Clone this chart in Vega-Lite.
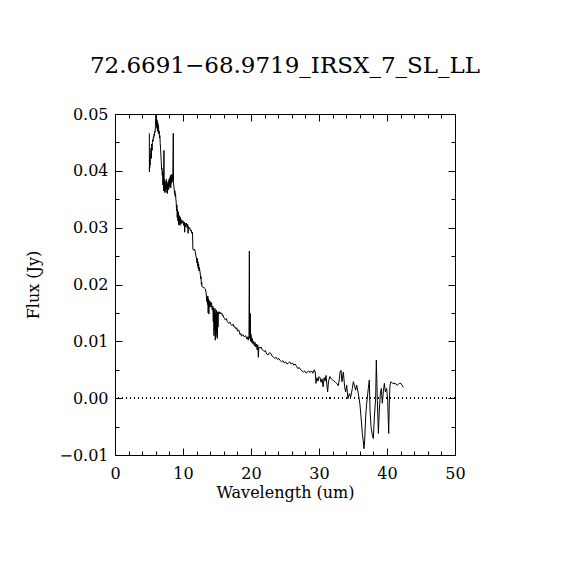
{
  "$schema": "https://vega.github.io/schema/vega-lite/v6.json",
  "title": "72.6691−68.9719_IRSX_7_SL_LL",
  "autosize": {"type": "none"},
  "padding": {"left": 115, "top": 114, "right": 115, "bottom": 115},
  "width": 340,
  "height": 341,
  "data": {
    "values": [
      {"w": 5.05, "f": 0.0466}, {"w": 5.06, "f": 0.0398}, {"w": 5.08, "f": 0.042}, {"w": 5.1, "f": 0.0405},
      {"w": 5.13, "f": 0.0425}, {"w": 5.16, "f": 0.041}, {"w": 5.2, "f": 0.0428}, {"w": 5.25, "f": 0.0432},
      {"w": 5.3, "f": 0.044}, {"w": 5.35, "f": 0.0422}, {"w": 5.4, "f": 0.0447}, {"w": 5.45, "f": 0.0436},
      {"w": 5.5, "f": 0.045}, {"w": 5.55, "f": 0.0455}, {"w": 5.6, "f": 0.0452}, {"w": 5.65, "f": 0.046},
      {"w": 5.7, "f": 0.0458}, {"w": 5.75, "f": 0.0465}, {"w": 5.8, "f": 0.0462}, {"w": 5.85, "f": 0.047},
      {"w": 5.9, "f": 0.0468}, {"w": 5.95, "f": 0.048}, {"w": 6.0, "f": 0.0492}, {"w": 6.03, "f": 0.0499},
      {"w": 6.06, "f": 0.0485}, {"w": 6.09, "f": 0.0495}, {"w": 6.12, "f": 0.0478}, {"w": 6.15, "f": 0.049},
      {"w": 6.18, "f": 0.0475}, {"w": 6.21, "f": 0.0488}, {"w": 6.24, "f": 0.047}, {"w": 6.27, "f": 0.0485},
      {"w": 6.3, "f": 0.0472}, {"w": 6.33, "f": 0.0482}, {"w": 6.36, "f": 0.0468}, {"w": 6.4, "f": 0.0478},
      {"w": 6.45, "f": 0.0465}, {"w": 6.5, "f": 0.047}, {"w": 6.55, "f": 0.0458}, {"w": 6.6, "f": 0.0462},
      {"w": 6.65, "f": 0.0448}, {"w": 6.7, "f": 0.044}, {"w": 6.75, "f": 0.0428}, {"w": 6.8, "f": 0.0418},
      {"w": 6.85, "f": 0.0402}, {"w": 6.9, "f": 0.0405}, {"w": 6.95, "f": 0.0392}, {"w": 7.0, "f": 0.04},
      {"w": 7.05, "f": 0.0375}, {"w": 7.1, "f": 0.0395}, {"w": 7.15, "f": 0.0365}, {"w": 7.2, "f": 0.0436},
      {"w": 7.22, "f": 0.0372}, {"w": 7.25, "f": 0.0385}, {"w": 7.3, "f": 0.0362}, {"w": 7.35, "f": 0.0382},
      {"w": 7.4, "f": 0.0366}, {"w": 7.45, "f": 0.0378}, {"w": 7.5, "f": 0.0362}, {"w": 7.55, "f": 0.0385},
      {"w": 7.6, "f": 0.0368}, {"w": 7.65, "f": 0.038}, {"w": 7.7, "f": 0.036}, {"w": 7.75, "f": 0.0376},
      {"w": 7.8, "f": 0.0366}, {"w": 7.85, "f": 0.0382}, {"w": 7.9, "f": 0.0368}, {"w": 7.95, "f": 0.0385},
      {"w": 8.0, "f": 0.0372}, {"w": 8.05, "f": 0.0388}, {"w": 8.1, "f": 0.0375}, {"w": 8.15, "f": 0.0392},
      {"w": 8.2, "f": 0.037}, {"w": 8.25, "f": 0.039}, {"w": 8.3, "f": 0.0378}, {"w": 8.35, "f": 0.0394},
      {"w": 8.4, "f": 0.038}, {"w": 8.45, "f": 0.0392}, {"w": 8.5, "f": 0.0385}, {"w": 8.57, "f": 0.0466},
      {"w": 8.6, "f": 0.038}, {"w": 8.65, "f": 0.0372}, {"w": 8.7, "f": 0.0368}, {"w": 8.75, "f": 0.036},
      {"w": 8.8, "f": 0.0365}, {"w": 8.85, "f": 0.0355}, {"w": 8.9, "f": 0.036}, {"w": 8.95, "f": 0.035},
      {"w": 9.0, "f": 0.0345}, {"w": 9.05, "f": 0.033}, {"w": 9.1, "f": 0.034}, {"w": 9.15, "f": 0.0318},
      {"w": 9.2, "f": 0.0332}, {"w": 9.25, "f": 0.0312}, {"w": 9.3, "f": 0.0328}, {"w": 9.35, "f": 0.0305},
      {"w": 9.4, "f": 0.0322}, {"w": 9.45, "f": 0.0308}, {"w": 9.5, "f": 0.032}, {"w": 9.55, "f": 0.0304},
      {"w": 9.6, "f": 0.0318}, {"w": 9.7, "f": 0.0306}, {"w": 9.8, "f": 0.0314}, {"w": 9.9, "f": 0.0308},
      {"w": 10.0, "f": 0.0312}, {"w": 10.1, "f": 0.0304}, {"w": 10.2, "f": 0.031}, {"w": 10.25, "f": 0.0292},
      {"w": 10.3, "f": 0.0308}, {"w": 10.4, "f": 0.0302}, {"w": 10.5, "f": 0.0308}, {"w": 10.6, "f": 0.03},
      {"w": 10.7, "f": 0.0306}, {"w": 10.75, "f": 0.029}, {"w": 10.8, "f": 0.0302}, {"w": 10.9, "f": 0.0298},
      {"w": 11.0, "f": 0.03}, {"w": 11.1, "f": 0.0294}, {"w": 11.2, "f": 0.0296}, {"w": 11.3, "f": 0.029},
      {"w": 11.4, "f": 0.0292}, {"w": 11.45, "f": 0.0262}, {"w": 11.5, "f": 0.0262}, {"w": 11.6, "f": 0.026},
      {"w": 11.7, "f": 0.0262}, {"w": 11.8, "f": 0.0258}, {"w": 11.9, "f": 0.025}, {"w": 12.0, "f": 0.0245},
      {"w": 12.05, "f": 0.0238}, {"w": 12.1, "f": 0.0246}, {"w": 12.15, "f": 0.0232}, {"w": 12.2, "f": 0.024},
      {"w": 12.25, "f": 0.0228}, {"w": 12.3, "f": 0.0236}, {"w": 12.35, "f": 0.0224}, {"w": 12.4, "f": 0.023},
      {"w": 12.5, "f": 0.0222}, {"w": 12.55, "f": 0.0218}, {"w": 12.6, "f": 0.021}, {"w": 12.65, "f": 0.0214},
      {"w": 12.7, "f": 0.02}, {"w": 12.75, "f": 0.0204}, {"w": 12.8, "f": 0.0196}, {"w": 12.9, "f": 0.0196},
      {"w": 13.0, "f": 0.0194}, {"w": 13.1, "f": 0.0195}, {"w": 13.2, "f": 0.0193}, {"w": 13.3, "f": 0.0192},
      {"w": 13.4, "f": 0.0185}, {"w": 13.5, "f": 0.017}, {"w": 13.55, "f": 0.0178}, {"w": 13.6, "f": 0.0165},
      {"w": 13.65, "f": 0.018}, {"w": 13.7, "f": 0.015}, {"w": 13.75, "f": 0.0175}, {"w": 13.8, "f": 0.0148},
      {"w": 13.85, "f": 0.0172}, {"w": 13.9, "f": 0.016}, {"w": 14.0, "f": 0.017}, {"w": 14.1, "f": 0.016},
      {"w": 14.2, "f": 0.0168}, {"w": 14.3, "f": 0.0155}, {"w": 14.4, "f": 0.0162}, {"w": 14.45, "f": 0.0135},
      {"w": 14.5, "f": 0.0158}, {"w": 14.55, "f": 0.011}, {"w": 14.6, "f": 0.0155}, {"w": 14.65, "f": 0.012},
      {"w": 14.7, "f": 0.0158}, {"w": 14.75, "f": 0.0102}, {"w": 14.8, "f": 0.015}, {"w": 14.85, "f": 0.0108},
      {"w": 14.9, "f": 0.0155}, {"w": 14.95, "f": 0.0115}, {"w": 15.0, "f": 0.0152}, {"w": 15.05, "f": 0.0105},
      {"w": 15.1, "f": 0.015}, {"w": 15.15, "f": 0.0125}, {"w": 15.2, "f": 0.0152}, {"w": 15.3, "f": 0.0148},
      {"w": 15.4, "f": 0.0152}, {"w": 15.5, "f": 0.015}, {"w": 15.6, "f": 0.0148}, {"w": 15.7, "f": 0.015},
      {"w": 15.8, "f": 0.0145}, {"w": 15.9, "f": 0.0146}, {"w": 16.0, "f": 0.0142}, {"w": 16.2, "f": 0.0138},
      {"w": 16.4, "f": 0.014}, {"w": 16.5, "f": 0.0135}, {"w": 16.7, "f": 0.0132}, {"w": 16.9, "f": 0.0134},
      {"w": 17.0, "f": 0.013}, {"w": 17.2, "f": 0.0128}, {"w": 17.4, "f": 0.013}, {"w": 17.5, "f": 0.0125},
      {"w": 17.6, "f": 0.0126}, {"w": 17.8, "f": 0.0122}, {"w": 17.9, "f": 0.0124}, {"w": 18.0, "f": 0.0118},
      {"w": 18.2, "f": 0.012}, {"w": 18.4, "f": 0.0112}, {"w": 18.5, "f": 0.0114}, {"w": 18.6, "f": 0.0109},
      {"w": 18.8, "f": 0.0112}, {"w": 19.0, "f": 0.0108}, {"w": 19.2, "f": 0.011}, {"w": 19.4, "f": 0.0104},
      {"w": 19.5, "f": 0.0108}, {"w": 19.6, "f": 0.0102}, {"w": 19.7, "f": 0.011}, {"w": 19.76, "f": 0.0259},
      {"w": 19.8, "f": 0.0105}, {"w": 19.85, "f": 0.012}, {"w": 19.9, "f": 0.0149}, {"w": 19.95, "f": 0.01},
      {"w": 20.0, "f": 0.0112}, {"w": 20.1, "f": 0.0098}, {"w": 20.2, "f": 0.0105}, {"w": 20.3, "f": 0.0095},
      {"w": 20.4, "f": 0.01}, {"w": 20.5, "f": 0.0092}, {"w": 20.6, "f": 0.0098}, {"w": 20.7, "f": 0.009},
      {"w": 20.8, "f": 0.0095}, {"w": 20.9, "f": 0.0085}, {"w": 21.0, "f": 0.0094}, {"w": 21.08, "f": 0.0072},
      {"w": 21.15, "f": 0.009}, {"w": 21.3, "f": 0.0088}, {"w": 21.5, "f": 0.009}, {"w": 21.6, "f": 0.0086},
      {"w": 21.8, "f": 0.0084}, {"w": 22.0, "f": 0.0082}, {"w": 22.1, "f": 0.0084}, {"w": 22.3, "f": 0.0078},
      {"w": 22.5, "f": 0.0076}, {"w": 22.7, "f": 0.008}, {"w": 22.9, "f": 0.0079}, {"w": 23.1, "f": 0.0074},
      {"w": 23.3, "f": 0.0072}, {"w": 23.5, "f": 0.007}, {"w": 23.7, "f": 0.0072}, {"w": 23.9, "f": 0.0068},
      {"w": 24.1, "f": 0.007}, {"w": 24.3, "f": 0.0066}, {"w": 24.5, "f": 0.0064}, {"w": 24.7, "f": 0.0066},
      {"w": 24.9, "f": 0.0062}, {"w": 25.1, "f": 0.0064}, {"w": 25.3, "f": 0.006}, {"w": 25.5, "f": 0.0062},
      {"w": 25.7, "f": 0.0064}, {"w": 25.9, "f": 0.006}, {"w": 26.1, "f": 0.0062}, {"w": 26.3, "f": 0.0058},
      {"w": 26.5, "f": 0.006}, {"w": 26.7, "f": 0.0056}, {"w": 26.9, "f": 0.0052}, {"w": 27.1, "f": 0.0054},
      {"w": 27.3, "f": 0.005}, {"w": 27.5, "f": 0.0048}, {"w": 27.7, "f": 0.0046}, {"w": 27.9, "f": 0.0048},
      {"w": 28.1, "f": 0.0044}, {"w": 28.3, "f": 0.0046}, {"w": 28.5, "f": 0.0048}, {"w": 28.7, "f": 0.0045},
      {"w": 28.9, "f": 0.0048}, {"w": 29.1, "f": 0.0044}, {"w": 29.3, "f": 0.005}, {"w": 29.45, "f": 0.0046},
      {"w": 29.55, "f": 0.0026}, {"w": 29.7, "f": 0.0036}, {"w": 29.85, "f": 0.003}, {"w": 30.0, "f": 0.0038},
      {"w": 30.15, "f": 0.0036}, {"w": 30.3, "f": 0.0028}, {"w": 30.45, "f": 0.0034}, {"w": 30.6, "f": 0.002},
      {"w": 30.75, "f": 0.0036}, {"w": 30.9, "f": 0.003}, {"w": 31.03, "f": 0.004}, {"w": 31.15, "f": 0.0025},
      {"w": 31.27, "f": 0.0011}, {"w": 31.4, "f": 0.003}, {"w": 31.6, "f": 0.0038}, {"w": 31.8, "f": 0.0034},
      {"w": 32.0, "f": 0.0032}, {"w": 32.2, "f": 0.003}, {"w": 32.4, "f": 0.0028}, {"w": 32.6, "f": 0.0026},
      {"w": 32.84, "f": 0.0022}, {"w": 33.0, "f": 0.0034}, {"w": 33.1, "f": 0.0046}, {"w": 33.24, "f": 0.0049},
      {"w": 33.38, "f": 0.0029}, {"w": 33.58, "f": 0.0046}, {"w": 33.77, "f": 0.002}, {"w": 33.92, "f": 0.0011},
      {"w": 34.07, "f": 0.0023}, {"w": 34.26, "f": -0.0001}, {"w": 34.46, "f": 0.0008}, {"w": 34.66, "f": 0.0002},
      {"w": 34.9, "f": 0.0017}, {"w": 35.05, "f": 0.0029}, {"w": 35.2, "f": 0.0023}, {"w": 35.39, "f": 0.0014},
      {"w": 35.54, "f": 0.0023}, {"w": 35.79, "f": 0.0008}, {"w": 36.03, "f": -0.0012}, {"w": 36.18, "f": -0.0033},
      {"w": 36.37, "f": -0.0062}, {"w": 36.52, "f": -0.0077}, {"w": 36.62, "f": -0.0089}, {"w": 36.72, "f": -0.0074},
      {"w": 36.86, "f": -0.0033}, {"w": 37.01, "f": -0.0009}, {"w": 37.25, "f": 0.0017}, {"w": 37.4, "f": 0.0032},
      {"w": 37.5, "f": -0.0021}, {"w": 37.65, "f": -0.005}, {"w": 37.84, "f": -0.0065}, {"w": 37.99, "f": -0.0071},
      {"w": 38.14, "f": -0.0033}, {"w": 38.33, "f": -0.0001}, {"w": 38.43, "f": 0.0067}, {"w": 38.58, "f": -0.0004},
      {"w": 38.73, "f": -0.0062}, {"w": 38.87, "f": -0.0021}, {"w": 39.02, "f": 0.0008}, {"w": 39.17, "f": 0.0017},
      {"w": 39.31, "f": -0.0009}, {"w": 39.46, "f": 0.0011}, {"w": 39.61, "f": 0.0026}, {"w": 39.76, "f": 0.0011},
      {"w": 39.95, "f": 0.0017}, {"w": 40.1, "f": -0.0004}, {"w": 40.25, "f": -0.0062}, {"w": 40.34, "f": -0.0009},
      {"w": 40.44, "f": 0.0023}, {"w": 40.59, "f": 0.0029}, {"w": 40.83, "f": 0.0026}, {"w": 41.18, "f": 0.0026},
      {"w": 41.52, "f": 0.0023}, {"w": 41.81, "f": 0.0026}, {"w": 42.06, "f": 0.0026}, {"w": 42.4, "f": 0.0019}
    ]
  },
  "layer": [
    {
      "mark": {"type": "line", "color": "black", "strokeWidth": 1},
      "encoding": {
        "x": {
          "field": "w", "type": "quantitative",
          "scale": {"domain": [0, 50], "nice": false, "zero": false},
          "axis": {"orient": "bottom", "values": [0, 10, 20, 30, 40, 50], "tickSize": -7, "labelPadding": 17, "labelFlush": false, "title": "Wavelength (um)", "titlePadding": 3}
        },
        "y": {
          "field": "f", "type": "quantitative",
          "scale": {"domain": [-0.01, 0.05], "nice": false, "zero": false},
          "axis": {"orient": "left", "values": [-0.01, 0, 0.01, 0.02, 0.03, 0.04, 0.05], "format": ".2f", "tickSize": -7, "labelPadding": 14, "labelFlush": false, "title": "Flux (Jy)", "titlePadding": 17}
        }
      }
    },
    {
      "mark": {"type": "line", "opacity": 0},
      "encoding": {
        "x": {"field": "w", "type": "quantitative", "axis": {"orient": "bottom", "values": [2, 4, 6, 8, 12, 14, 16, 18, 22, 24, 26, 28, 32, 34, 36, 38, 42, 44, 46, 48], "tickSize": -4, "labels": false, "title": null}},
        "y": {"field": "f", "type": "quantitative", "axis": {"orient": "left", "values": [-0.005, 0.005, 0.015, 0.025, 0.035, 0.045], "tickSize": -4, "labels": false, "title": null}}
      }
    },
    {
      "mark": {"type": "line", "opacity": 0},
      "encoding": {
        "x": {"field": "w", "type": "quantitative", "axis": {"orient": "top", "values": [0, 10, 20, 30, 40, 50], "tickSize": -7, "labels": false, "title": null}},
        "y": {"field": "f", "type": "quantitative", "axis": {"orient": "right", "values": [-0.01, 0, 0.01, 0.02, 0.03, 0.04, 0.05], "tickSize": -7, "labels": false, "title": null}}
      }
    },
    {
      "mark": {"type": "line", "opacity": 0},
      "encoding": {
        "x": {"field": "w", "type": "quantitative", "axis": {"orient": "top", "values": [2, 4, 6, 8, 12, 14, 16, 18, 22, 24, 26, 28, 32, 34, 36, 38, 42, 44, 46, 48], "tickSize": -4, "labels": false, "title": null}},
        "y": {"field": "f", "type": "quantitative", "axis": {"orient": "right", "values": [-0.005, 0.005, 0.015, 0.025, 0.035, 0.045], "tickSize": -4, "labels": false, "title": null}}
      }
    },
    {
      "mark": {"type": "rule", "color": "black", "strokeWidth": 1, "strokeDash": [1, 3]},
      "encoding": {
        "y": {"datum": 0, "type": "quantitative", "axis": null}
      }
    }
  ],
  "resolve": {"axis": {"x": "independent", "y": "independent"}},
  "config": {
    "view": {"stroke": "black", "strokeWidth": 1},
    "axis": {
      "grid": false, "domain": false, "tickColor": "black", "tickWidth": 1,
      "labelColor": "black", "titleColor": "black",
      "labelFont": "DejaVu Serif", "titleFont": "DejaVu Serif",
      "labelFontSize": 16, "titleFontSize": 16, "titleFontWeight": "normal"
    },
    "title": {"font": "DejaVu Serif", "fontSize": 23, "fontWeight": "normal", "color": "black", "offset": 28}
  }
}
